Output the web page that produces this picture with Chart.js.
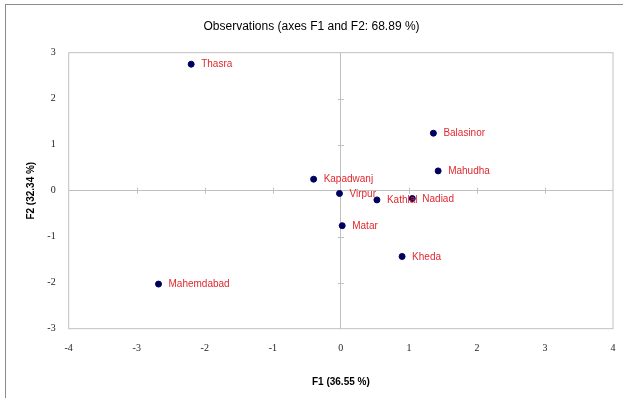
<!DOCTYPE html>
<html>
<head>
<meta charset="utf-8">
<script src="https://cdn.jsdelivr.net/npm/chart.js@4"></script>
<style>
	html, body { margin: 0; padding: 0; background: #fff; }
	#wrap { position: relative; width: 623px; height: 398px; }
	#frame { position: absolute; left: 5px; top: 4px; right: 0; bottom: 0; border-top: 1px solid #8c8c8c; border-left: 1px solid #8c8c8c; }
	canvas { position: absolute; left: 0; top: 0; }
</style>
</head>
<body>
<div id="wrap">
	<div id="frame"></div>
	<canvas id="j-canvas-obs" width="623" height="398"></canvas>
</div>
<script>
// observations on F1 / F2
var names = ['Thasra', 'Kapadwanj', 'Virpur', 'Kathlal', 'Nadiad', 'Matar', 'Kheda', 'Balasinor', 'Mahudha', 'Mahemdabad'];
var f1 = [-2.20, -0.40, -0.02, 0.53, 1.05, 0.02, 0.90, 1.36, 1.43, -2.68];
var f2 = [2.75, 0.25, -0.06, -0.20, -0.17, -0.76, -1.43, 1.25, 0.43, -2.03];
var xTicks = [-4, -3, -2, -1, 0, 1, 2, 3, 4];
var yTicks = [-3, -2, -1, 0, 1, 2, 3];

var points = [];
for (var i = 0; i < names.length; i++) {
	points.push({ x: f1[i], y: f2[i], label: names[i] });
}

var axisGray = '#c0c0c0';

// box around plot area + small ticks on the zero lines
var boxPlugin = {
	id: 'box',
	beforeDatasetsDraw: function(chart) {
		var a = chart.chartArea, c = chart.ctx;
		var sx = chart.scales.x, sy = chart.scales.y;
		var x0 = sx.getPixelForValue(0), y0 = sy.getPixelForValue(0);
		c.save();
		c.strokeStyle = axisGray;
		c.lineWidth = 1;
		c.strokeRect(a.left, a.top, a.right - a.left, a.bottom - a.top);
		c.beginPath();
		for (var i = 0; i < xTicks.length; i++) {
			if (xTicks[i] === 0 || i === 0 || i === xTicks.length - 1) continue;
			var px = Math.round(sx.getPixelForValue(xTicks[i])) + 0.5;
			c.moveTo(px, y0 - 3);
			c.lineTo(px, y0 + 3);
		}
		for (var j = 0; j < yTicks.length; j++) {
			if (yTicks[j] === 0 || j === 0 || j === yTicks.length - 1) continue;
			var py = Math.round(sy.getPixelForValue(yTicks[j])) + 0.5;
			c.moveTo(x0 - 3, py);
			c.lineTo(x0 + 3, py);
		}
		c.stroke();
		c.restore();
	},
	afterDatasetsDraw: function(chart) {
		var c = chart.ctx;
		var meta = chart.getDatasetMeta(0);
		c.save();
		c.fillStyle = '#e0282e';
		c.font = '10px "Liberation Sans", Arial, sans-serif';
		c.textBaseline = 'middle';
		c.textAlign = 'left';
		for (var i = 0; i < meta.data.length; i++) {
			var el = meta.data[i];
			c.fillText(points[i].label, el.x + 10, el.y + 0.5);
		}
		c.restore();
	}
};

var ctx = document.getElementById('j-canvas-obs').getContext('2d');
window.obsChart = new Chart(ctx, {
	type: 'scatter',
	data: {
		datasets: [{
			label: 'Observations',
			data: points,
			backgroundColor: '#00005e',
			borderColor: '#00005e',
			pointRadius: 3,
			pointHoverRadius: 3
		}]
	},
	options: {
		responsive: false,
		animation: false,
		events: [],
		layout: {
			padding: { left: 10, right: 10, top: 0, bottom: 10 }
		},
		plugins: {
			legend: { display: false },
			tooltip: { enabled: false },
			title: {
				display: true,
				text: 'Observations (axes F1 and F2: 68.89 %)',
				color: '#000',
				font: { family: '"Liberation Sans", Arial, sans-serif', size: 12, weight: 'normal', lineHeight: 1.2 },
				padding: { top: 19, bottom: 19.3 }
			}
		},
		scales: {
			x: {
				type: 'linear',
				min: -4,
				max: 4,
				afterBuildTicks: function(scale) {
					scale.ticks = xTicks.map(function(v) { return { value: v }; });
				},
				afterFit: function(scale) {
					scale.height = 59.3;
					scale.paddingLeft = 0;
					scale.paddingRight = 0;
				},
				grid: {
					drawTicks: false,
					color: function(c) { return c.tick && c.tick.value === 0 ? axisGray : 'rgba(0,0,0,0)'; }
				},
				border: { display: false },
				ticks: {
					padding: 14,
					maxRotation: 0,
					color: '#222',
					font: { family: '"Liberation Serif", serif', size: 10 }
				},
				title: {
					display: true,
					text: 'F1 (36.55 %)',
					color: '#000',
					font: { family: '"Liberation Sans", Arial, sans-serif', size: 10, weight: 'bold' },
					padding: { top: 7, bottom: 0 }
				}
			},
			y: {
				type: 'linear',
				min: -3,
				max: 3,
				afterBuildTicks: function(scale) {
					scale.ticks = yTicks.map(function(v) { return { value: v }; });
				},
				afterFit: function(scale) {
					scale.width = 58.7;
					scale.paddingTop = 0;
					scale.paddingBottom = 0;
				},
				grid: {
					drawTicks: false,
					color: function(c) { return c.tick && c.tick.value === 0 ? axisGray : 'rgba(0,0,0,0)'; }
				},
				border: { display: false },
				ticks: {
					padding: 13,
					color: '#222',
					font: { family: '"Liberation Serif", serif', size: 10 }
				},
				title: {
					display: true,
					text: 'F2 (32.34 %)',
					color: '#000',
					font: { family: '"Liberation Sans", Arial, sans-serif', size: 10, weight: 'bold' },
					padding: { top: 15.7, bottom: 0 }
				}
			}
		}
	},
	plugins: [boxPlugin]
});
</script>
</body>
</html>
